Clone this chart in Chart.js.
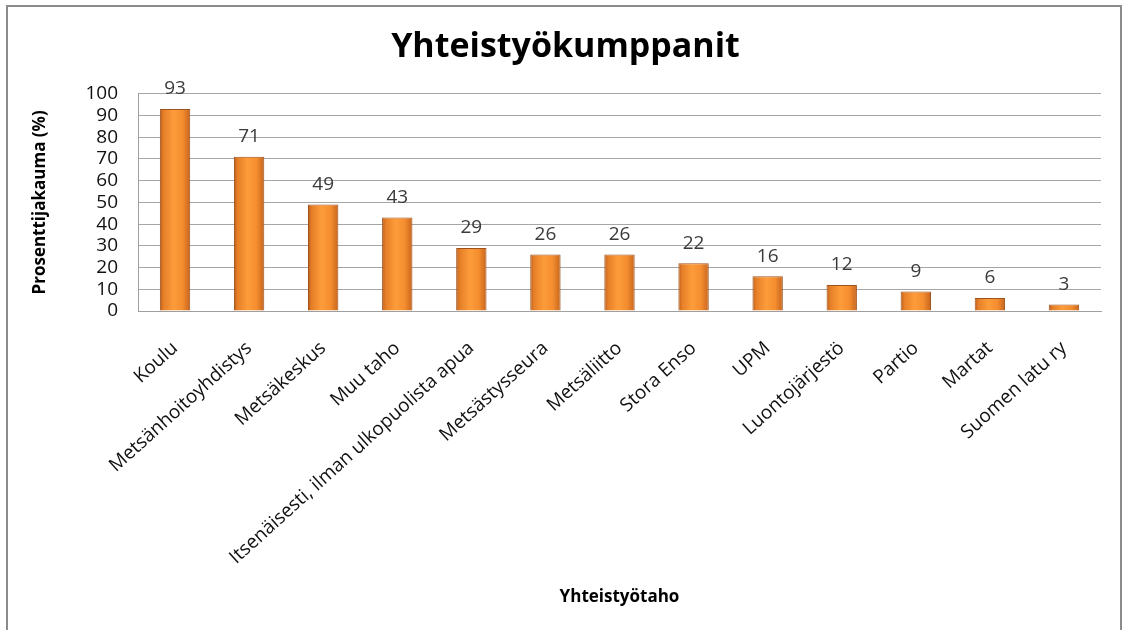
<!DOCTYPE html>
<html lang="fi">
<head>
<meta charset="utf-8">
<title>Yhteistyökumppanit</title>
<script src="https://cdn.jsdelivr.net/npm/chart.js@4/dist/chart.umd.min.js"></script>
<style>
  html, body {
    margin: 0;
    padding: 0;
    background: #ffffff;
  }
  #frame {
    position: absolute;
    left: 6px;
    top: 5px;
    width: 1116px;
    height: 640px;
    border: 2px solid #8c8c8c;
    box-sizing: border-box;
  }
  #wrap {
    position: absolute;
    left: 0;
    top: 0;
    width: 1126px;
    height: 630px;
  }
</style>
</head>
<body>
<div id="frame"></div>
<div id="wrap"><canvas id="chart"></canvas></div>
<script>
// Yhteistyökumppanit - percentage distribution per partner type

const categories = [
  'Koulu',
  'Metsänhoitoyhdistys',
  'Metsäkeskus',
  'Muu taho',
  'Itsenäisesti, ilman ulkopuolista apua',
  'Metsästysseura',
  'Metsäliitto',
  'Stora Enso',
  'UPM',
  'Luontojärjestö',
  'Partio',
  'Martat',
  'Suomen latu ry'
];

const percentages = [93, 71, 49, 43, 29, 26, 26, 22, 16, 12, 9, 6, 3];

const yTicks = [0, 10, 20, 30, 40, 50, 60, 70, 80, 90, 100];

const FONT = '"Open Sans", "DejaVu Sans", sans-serif';
const BAR_PERCENT = 0.41;

/**
 * Horizontal "cylinder" gradient for one bar, built from the x scale
 */
function barGradient(context) {
  const chart = context.chart;
  const xScale = chart.scales.x;
  if (!xScale || context.dataIndex === undefined) {
    return '#f28e2b';
  }
  const center = xScale.getPixelForValue(context.dataIndex);
  const half = (xScale.width / categories.length) * BAR_PERCENT / 2;
  if (!Number.isFinite(center) || !Number.isFinite(half) || half <= 0) {
    return '#f28e2b';
  }
  const g = chart.ctx.createLinearGradient(center - half, 0, center + half, 0);
  g.addColorStop(0, '#b85b1a');
  g.addColorStop(0.12, '#e67f28');
  g.addColorStop(0.45, '#fd9c3a');
  g.addColorStop(0.75, '#f48d2f');
  g.addColorStop(1, '#c6641d');
  return g;
}

// value labels above each bar
const valueLabels = {
  id: 'valueLabels',
  afterDatasetsDraw(chart) {
    const ctx = chart.ctx;
    const meta = chart.getDatasetMeta(0);
    ctx.save();
    ctx.font = '19px ' + FONT;
    ctx.fillStyle = '#3a3a3a';
    ctx.textAlign = 'center';
    ctx.textBaseline = 'middle';
    meta.data.forEach((bar, i) => {
      ctx.fillText(String(percentages[i]), bar.x, bar.y - 20);
    });
    ctx.restore();
  }
};

new Chart(document.getElementById('chart'), {
  type: 'bar',
  data: {
    labels: categories,
    datasets: [{
      label: 'Prosenttijakauma (%)',
      data: percentages,
      backgroundColor: barGradient,
      borderColor: '#a0521a',
      borderWidth: 1,
      categoryPercentage: 1,
      barPercentage: BAR_PERCENT
    }]
  },
  options: {
    responsive: true,
    maintainAspectRatio: false,
    animation: false,
    layout: {
      padding: { left: 30, right: 25, top: 0, bottom: 19 }
    },
    plugins: {
      legend: { display: false },
      tooltip: { enabled: false },
      title: {
        display: true,
        text: 'Yhteistyökumppanit',
        color: '#000000',
        font: { family: FONT, size: 34, weight: 'bold' },
        padding: { top: 27, bottom: 26 }
      }
    },
    scales: {
      y: {
        min: 0,
        max: 100,
        afterBuildTicks: (scale) => {
          scale.ticks = yTicks.map(v => ({ value: v }));
        },
        afterFit: (scale) => {
          scale.width = 108;
        },
        ticks: {
          color: '#111111',
          padding: 20,
          autoSkip: false,
          font: { family: FONT, size: 19 }
        },
        border: { display: true, color: '#a0a0a0', width: 1 },
        grid: {
          color: '#a6a6a6',
          lineWidth: 1,
          drawTicks: false
        },
        title: {
          display: true,
          text: 'Prosenttijakauma (%)',
          color: '#000000',
          font: { family: FONT, size: 17, weight: 'bold' },
          padding: { top: 0, bottom: 2 }
        }
      },
      x: {
        afterFit: (scale) => {
          scale.height = 300;
        },
        ticks: {
          color: '#111111',
          minRotation: 42,
          maxRotation: 42,
          autoSkip: false,
          padding: 18,
          font: { family: FONT, size: 19 }
        },
        border: { display: true, color: '#a0a0a0', width: 1 },
        grid: { display: false },
        title: {
          display: true,
          text: 'Yhteistyötaho',
          color: '#000000',
          font: { family: FONT, size: 17, weight: 'bold' },
          padding: { top: 4, bottom: 4 }
        }
      }
    }
  },
  plugins: [valueLabels]
});
</script>
</body>
</html>
